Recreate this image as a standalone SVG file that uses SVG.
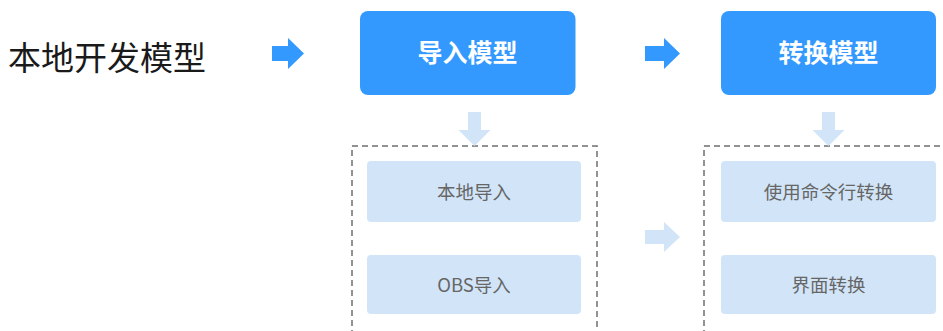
<svg xmlns="http://www.w3.org/2000/svg" width="943" height="331" viewBox="0 0 943 331">
<style>
.main{fill:#3399ff}
.sub{fill:#d2e5f8}
.arr{fill:#3399ff}
.larr{fill:#d2e5f8}
.dash{fill:none;stroke:#6f6f6f;stroke-width:1.5;stroke-dasharray:6 4}
.t{font-family:"Noto Sans CJK SC","Noto Sans",sans-serif;text-anchor:middle}
.title{font-family:"Noto Sans CJK SC","Noto Sans",sans-serif;font-size:33px;fill:#1a1a1a}
.mt{font-size:25px;font-weight:bold;fill:#ffffff}
.st{font-size:18.5px;fill:#666666}
</style>
<rect width="943" height="331" fill="#ffffff"/>
<g id="title"><text class="title" x="8" y="70">本地开发模型</text></g>
<g id="import-group"><rect class="dash" x="352" y="146" width="245" height="200"/></g>
<g id="convert-group"><rect class="dash" x="704" y="146" width="260" height="200"/></g>
<g id="import-model"><rect class="main" x="360" y="11" width="215.5" height="84" rx="8"/><text class="t mt" x="467.5" y="62">导入模型</text></g>
<g id="convert-model"><rect class="main" x="721" y="11" width="215" height="84" rx="8"/><text class="t mt" x="828.5" y="62">转换模型</text></g>
<g id="local-import"><rect class="sub" x="367" y="161" width="214" height="61" rx="4"/><text class="t st" x="474" y="199">本地导入</text></g>
<g id="obs-import"><rect class="sub" x="367" y="255" width="214" height="59" rx="4"/><text class="t st" x="474" y="292">OBS导入</text></g>
<g id="cli-convert"><rect class="sub" x="721" y="161" width="215" height="61" rx="4"/><text class="t st" x="828.5" y="199">使用命令行转换</text></g>
<g id="ui-convert"><rect class="sub" x="721" y="255" width="215" height="59" rx="4"/><text class="t st" x="828.5" y="292">界面转换</text></g>
<g id="connectors">
<path class="arr" d="M272 46 H288 V38 L304 53.5 L288 69 V61 H272 Z"/>
<path class="arr" d="M645 46 H664 V38 L680 53.5 L664 69 V61 H645 Z"/>
<path class="larr" d="M645 230 H664 V222 L680 237 L664 252 V244 H645 Z"/>
<path class="larr" d="M468 112 H481 V130 H490.5 L474.5 146 L458.5 130 H468 Z"/>
<path class="larr" d="M822 112 H835 V130 H844.5 L828.5 146 L812.5 130 H822 Z"/>
</g>
</svg>
